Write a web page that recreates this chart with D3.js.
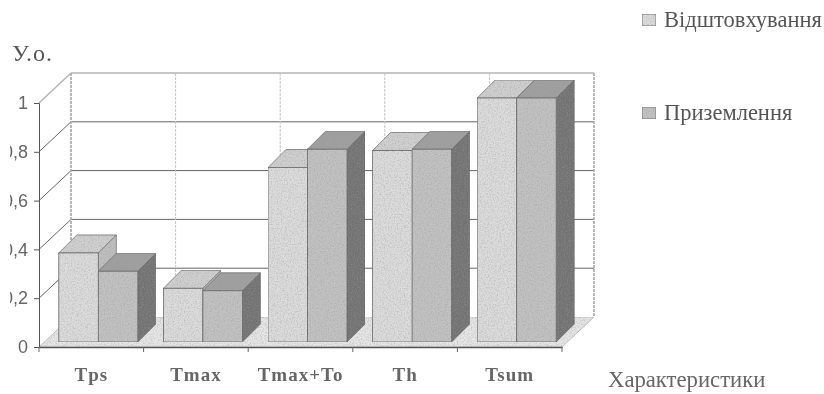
<!DOCTYPE html>
<html>
<head>
<meta charset="utf-8">
<script src="https://cdn.jsdelivr.net/npm/d3@7"></script>
<style>
    html, body { margin: 0; padding: 0; background: #fff; }
    svg { display: block; }
</style>
</head>
<body>
<div id="chart"></div>
<script>
const categories = ["Tps", "Tmax", "Tmax+To", "Th", "Tsum"];
const seriesNames = ["Відштовхування", "Приземлення"];
const pushOff = [0.365, 0.22, 0.715, 0.785, 1];
const landing = [0.29, 0.21, 0.79, 0.79, 1];
const yTicks = [0, 0.2, 0.4, 0.6, 0.8, 1];
const yTickLabels = ["0", "0,2", "0,4", "0,6", "0,8", "1"];

const seriesColors = [
    { front: "#dcdcdc", top: "#d0d0d0", side: "#c0c0c0" },
    { front: "#c2c2c2", top: "#a0a0a0", side: "#727272" }
];

const svg = d3.select("#chart").append("svg")
    .attr("width", 824)
    .attr("height", 394);

const defs = svg.append("defs");

// scanned look
const soft = defs.append("filter").attr("id", "soft");
soft.append("feGaussianBlur").attr("stdDeviation", 0.55);

const grain = defs.append("filter").attr("id", "grain")
    .attr("x", 0).attr("y", 0).attr("width", 1).attr("height", 1);
grain.append("feTurbulence")
    .attr("type", "fractalNoise")
    .attr("baseFrequency", 0.7)
    .attr("numOctaves", 2)
    .attr("seed", 4)
    .attr("result", "noise");
grain.append("feColorMatrix")
    .attr("in", "noise")
    .attr("type", "matrix")
    .attr("values", "0 0 0 0 0.3  0 0 0 0 0.3  0 0 0 0 0.3  1.1 0 0 0 -0.45")
    .attr("result", "dark");
grain.append("feComposite")
    .attr("in", "dark")
    .attr("in2", "SourceAlpha")
    .attr("operator", "in")
    .attr("result", "specks");
const grainMerge = grain.append("feMerge");
grainMerge.append("feMergeNode").attr("in", "SourceGraphic");
grainMerge.append("feMergeNode").attr("in", "specks");

// tick labels are cut by the left edge of the scan
defs.append("clipPath").attr("id", "scan-edge")
    .append("rect")
    .attr("x", 10).attr("y", 0).attr("width", 814).attr("height", 394);

const root = svg.append("g").attr("filter", "url(#soft)");

const x0 = d3.scaleBand().domain(categories).range([39, 562]);
const x1 = d3.scaleBand().domain(d3.range(seriesNames.length)).range([0, 79]);
const y = d3.scaleLinear().domain([0, 1]).range([347, 103]);

const wallDx = 32;
const wallDy = -30;
const barDepth = 18;
const barShift = 5;
const barInset = (x0.bandwidth() - 79) / 2 + barShift + 2;

const wallLeft = x0.range()[0] + wallDx;
const wallRight = x0.range()[1] + wallDx;

// FLOOR
root.append("polygon")
    .attr("points", [
        [x0.range()[0], y(0)],
        [x0.range()[1], y(0)],
        [wallRight, y(0) + wallDy],
        [wallLeft, y(0) + wallDy]
    ].join(" "))
    .attr("fill", "#e6e6e6")
    .attr("stroke", "#c4c4c4")
    .attr("filter", "url(#grain)");

// GRID
const grid = root.append("g");

grid.selectAll(".h-grid")
    .data(yTicks.slice(1))
    .join("line")
    .attr("class", "h-grid")
    .attr("x1", wallLeft)
    .attr("x2", wallRight)
    .attr("y1", d => y(d) + wallDy)
    .attr("y2", d => y(d) + wallDy)
    .attr("stroke", d => d === 1 ? "#b5b5b5" : "#666")
    .attr("stroke-width", d => d === 1 ? 1.6 : 1);

grid.selectAll(".side-grid")
    .data(yTicks.slice(1))
    .join("line")
    .attr("class", "side-grid")
    .attr("x1", x0.range()[0])
    .attr("x2", wallLeft)
    .attr("y1", d => y(d))
    .attr("y2", d => y(d) + wallDy)
    .attr("stroke", d => d === 1 ? "#b5b5b5" : "#666")
    .attr("stroke-width", d => d === 1 ? 1.6 : 1);

grid.selectAll(".v-grid")
    .data(d3.range(categories.length + 1))
    .join("line")
    .attr("class", "v-grid")
    .attr("x1", d => wallLeft + d * x0.step())
    .attr("x2", d => wallLeft + d * x0.step())
    .attr("y1", y(1) + wallDy)
    .attr("y2", y(0) + wallDy)
    .attr("stroke", d => (d === 0 || d === categories.length) ? "#b0b0b0" : "#c4c4c4")
    .attr("stroke-width", d => (d === 0 || d === categories.length) ? 1.8 : 1)
    .attr("stroke-dasharray", "3 1");

// BARS
const bars = root.append("g").attr("class", "bars");

categories.forEach((cat, i) => {
    [pushOff, landing].forEach((values, s) => {
        const left = x0(cat) + barInset + x1(s);
        const w = x1.bandwidth();
        const top = y(values[i]) - barShift;
        const base = y(0) - barShift;
        const col = seriesColors[s];
        const bar = bars.append("g").attr("filter", "url(#grain)");

        bar.append("polygon")
            .attr("points", [
                [left + w, top],
                [left + w + barDepth, top - barDepth],
                [left + w + barDepth, base - barDepth],
                [left + w, base]
            ].join(" "))
            .attr("fill", col.side)
            .attr("stroke", "#666")
            .attr("stroke-width", 0.7);

        bar.append("polygon")
            .attr("points", [
                [left, top],
                [left + barDepth, top - barDepth],
                [left + w + barDepth, top - barDepth],
                [left + w, top]
            ].join(" "))
            .attr("fill", col.top)
            .attr("stroke", "#666")
            .attr("stroke-width", 0.7);

        bar.append("rect")
            .attr("x", left)
            .attr("y", top)
            .attr("width", w)
            .attr("height", base - top)
            .attr("fill", col.front)
            .attr("stroke", "#666")
            .attr("stroke-width", 0.8);
    });
});

// Y-axis
const yAxisWrap = root.append("g").attr("clip-path", "url(#scan-edge)");

const yAxis = d3.axisLeft(y)
    .tickValues(yTicks)
    .tickSize(5)
    .tickFormat((d, i) => yTickLabels[i]);

yAxisWrap.append("g")
    .attr("class", "y-axis")
    .attr("transform", `translate(${x0.range()[0]},0)`)
    .call(yAxis)
    .call(g => g.selectAll("path, line").attr("stroke", "#555"))
    .selectAll("text")
    .attr("x", -11)
    .attr("font-family", "'Liberation Sans', sans-serif")
    .attr("font-size", 18)
    .attr("fill", "#666");

// X-axis
root.append("g")
    .attr("class", "x-axis")
    .attr("transform", `translate(0,${y(0)})`)
    .call(d3.axisBottom(x0).tickSize(0).tickPadding(21))
    .call(g => g.select(".domain").attr("stroke", "#555").attr("stroke-width", 1.3))
    .selectAll("text")
    .attr("font-family", "'Liberation Serif', serif")
    .attr("font-size", 19)
    .attr("font-weight", "bold")
    .attr("letter-spacing", 1)
    .attr("fill", "#666");

root.append("g")
    .selectAll("line")
    .data(d3.range(categories.length + 1))
    .join("line")
    .attr("x1", d => x0.range()[0] + d * x0.step())
    .attr("x2", d => x0.range()[0] + d * x0.step())
    .attr("y1", y(0))
    .attr("y2", y(0) + 5)
    .attr("stroke", "#666");

// Axis titles
root.append("text")
    .attr("x", 12)
    .attr("y", 61)
    .attr("font-family", "'Liberation Serif', serif")
    .attr("font-size", 24)
    .attr("letter-spacing", 1)
    .attr("fill", "#555")
    .text("У.о.");

root.append("text")
    .attr("x", 608)
    .attr("y", 387)
    .attr("font-family", "'Liberation Serif', serif")
    .attr("font-size", 22.7)
    .attr("fill", "#666")
    .text("Характеристики");

// LEGEND
const legendY = d3.scalePoint().domain(seriesNames).range([20, 113]);

const legendItems = root.selectAll(".legend-item")
    .data(seriesNames)
    .join("g")
    .attr("class", "legend-item")
    .attr("transform", d => `translate(642,${legendY(d)})`);

legendItems.append("rect")
    .attr("y", -6)
    .attr("width", 14)
    .attr("height", 12)
    .attr("fill", (d, i) => seriesColors[i].front)
    .attr("stroke", "#777")
    .attr("filter", "url(#grain)");

legendItems.append("text")
    .attr("x", 22)
    .attr("y", 7)
    .attr("font-family", "'Liberation Serif', serif")
    .attr("font-size", 22.5)
    .attr("fill", "#555")
    .text(d => d);
</script>
</body>
</html>
